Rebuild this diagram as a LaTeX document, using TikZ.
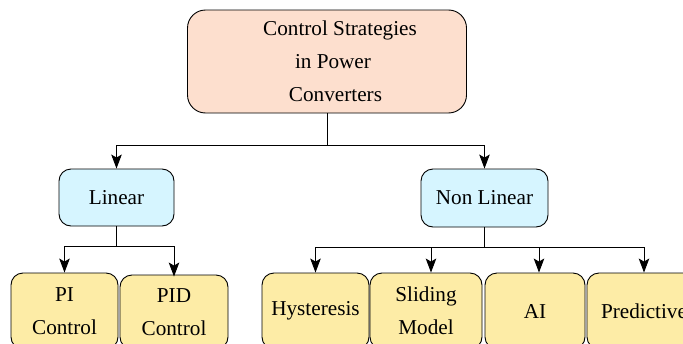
\documentclass[tikz,border=0pt]{standalone}
\usepackage{fontspec}
\setmainfont{Liberation Serif}
\usetikzlibrary{arrows.meta}
\definecolor{peach}{RGB}{253,223,206}
\definecolor{skyc}{RGB}{214,245,255}
\definecolor{sand}{RGB}{253,236,166}
\begin{document}
\begin{tikzpicture}[x=1pt,y=-1pt,
  box/.style={draw=black, line width=0.9pt, rounded corners=12pt, align=center,
    font=\fontsize{21.2}{33}\selectfont, inner sep=0pt},
  leaf/.style={box, fill=sand, minimum height=76pt},
  mid/.style={box, fill=skyc, minimum height=57pt},
  conn/.style={line width=0.9pt, -{Stealth[length=14pt,width=10.5pt,inset=3pt]}},
  plain/.style={line width=0.9pt}]
\useasboundingbox (0,0) rectangle (683,343);
\clip (0,0) rectangle (683,343);
\node[box, fill=peach, minimum width=279pt, minimum height=103pt, rounded corners=18pt] (root) at (327,61.5)
  {\hspace*{26pt}Control Strategies\\\hspace*{12pt}in Power\\\hspace*{17pt}Converters};
\node[mid, minimum width=115pt] (lin) at (116.5,197.5) {Linear};
\node[mid, minimum width=127pt, minimum height=58pt] (nl) at (484.5,198) {Non Linear};
\node[leaf, minimum width=107pt] (pi) at (64.5,311) {PI\\Control};
\node[leaf, minimum width=108pt, minimum height=74pt] (pid) at (174,312) {PID\\Control};
\node[leaf, minimum width=107pt] (hy) at (315.5,311) {Hysteresis};
\node[leaf, minimum width=112pt] (sl) at (426,311) {Sliding\\Model};
\node[leaf, minimum width=100pt] (ai) at (535,311) {AI};
\node[leaf, minimum width=114pt] (pr) at (644,311) {Predictive};
% connectors
\draw[plain] (root.south) -- ++(0,32) coordinate (j1);
\draw[conn] (j1) -| (lin.north);
\draw[conn] (j1) -| (nl.north);
\draw[plain] (lin.south) -- ++(0,20) coordinate (j2);
\draw[conn] (j2) -| (pi.north);
\draw[conn] (j2) -| ([yshift=-2pt]pid.north);
\draw[plain] (nl.south) -- ++(0,20) coordinate (j3);
\draw[conn] (j3) -| (hy.north);
\draw[conn] (j3) -| ([xshift=5pt]sl.north);
\draw[conn] (j3) -| ([xshift=4pt]ai.north);
\draw[conn] (j3) -| (pr.north);
\end{tikzpicture}
\end{document}
